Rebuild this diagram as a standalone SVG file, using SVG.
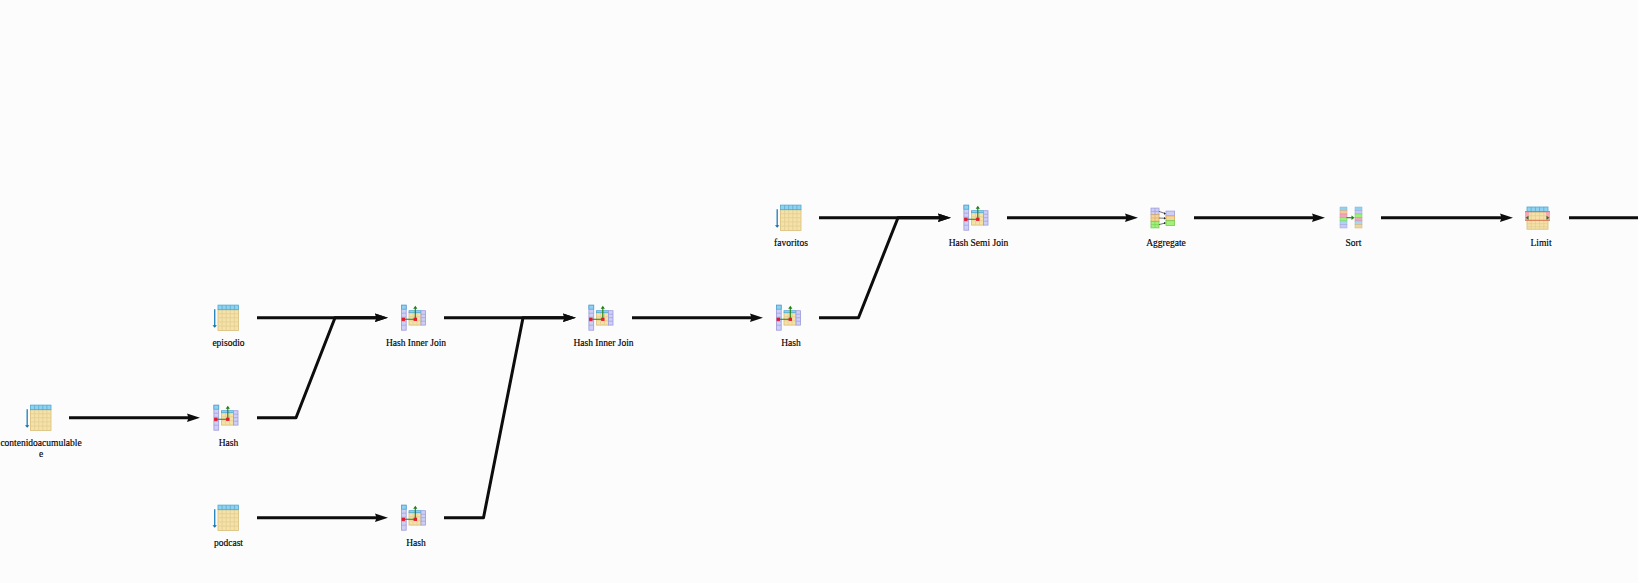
<svg xmlns="http://www.w3.org/2000/svg" width="1638" height="583" viewBox="0 0 1638 583">
<style>
.bg{fill:#fcfcfc}
.edge{fill:none;stroke:#0d0d0d;stroke-width:3;stroke-linejoin:round;marker-end:url(#head)}
.lbl{font-family:"Liberation Serif","Times New Roman",serif;font-size:9.5px;fill:#000;text-anchor:middle;stroke:#000;stroke-width:.15}
.y{fill:#f4e2a8;stroke:#d8bd78;stroke-width:.8}
.b{fill:#8fd2f0;stroke:#4ea8d2;stroke-width:.8}
.p{fill:#cfcff6;stroke:#9c9cdc;stroke-width:.8}
.gy{fill:none;stroke:#e2cc90;stroke-width:.7}
.gb{fill:none;stroke:#4ea8d2;stroke-width:.7}
.gp{fill:none;stroke:#9c9cdc;stroke-width:.7}
.r{fill:#e01b2c}
.gr{fill:none;stroke:#1f7f12;stroke-width:1.1}
.ga{fill:#1f7f12}
</style>
<defs>
<marker id="head" markerUnits="userSpaceOnUse" markerWidth="14" markerHeight="10" refX="5" refY="5" orient="auto" overflow="visible">
<path d="M0 .8L13 5L0 9.2L1.5 5Z" fill="#0d0d0d"/>
</marker>
<g id="ic-table">
<path d="M-13.8 -8.5V8.5" fill="none" stroke="#2a86bd" stroke-width="1.4"/>
<path d="M-16 7.5H-11.6L-13.8 10Z" fill="#1c6fa6"/>
<rect class="y" x="-10.5" y="-8" width="20.5" height="20.8"/>
<path class="gy" d="M-10.5 -4H10M-10.5 0H10M-10.5 4.2H10M-10.5 8.4H10M-6.4 -8V12.8M-2.3 -8V12.8M1.8 -8V12.8M5.9 -8V12.8"/>
<rect class="b" x="-10.5" y="-12.6" width="20.5" height="4.6"/>
<path class="gb" d="M-6.4 -12.6V-8M-2.3 -12.6V-8M1.8 -12.6V-8M5.9 -12.6V-8"/>
</g>
<g id="ic-hash">
<rect class="p" x="-14.6" y="-12.5" width="4.8" height="25"/>
<rect class="b" x="-14.6" y="-12.5" width="4.8" height="4"/>
<path class="gp" d="M-14.6 -4.5H-9.8M-14.6 -.5H-9.8M-14.6 3.5H-9.8M-14.6 7.5H-9.8"/>
<rect class="y" x="-7" y="-5" width="12" height="12.4"/>
<path class="gy" d="M-7 -1H5M-7 3H5M-3 -5V7.4M1 -5V7.4"/>
<rect class="b" x="-7" y="-7" width="12" height="2"/>
<rect class="p" x="5" y="-7" width="4.5" height="14.4"/>
<path class="gp" d="M5 -3.5H9.5M5 0H9.5M5 3.5H9.5"/>
<path class="gr" d="M-12.7 1.6H-.7V-10"/>
<path class="ga" d="M-.7 -12L-2.8 -9H1.4Z"/>
<rect class="r" x="-14.4" y="0" width="3.4" height="3.2"/>
<rect class="r" x="-2.4" y="0" width="3.4" height="3.2"/>
</g>
<g id="ic-agg">
<rect x="-15" y="-9.6" width="8" height="6.6" class="p"/>
<rect x="-15" y="-3" width="8" height="6.6" fill="#f4d69a" stroke="#d8a860" stroke-width=".8"/>
<rect x="-15" y="3.6" width="8" height="6.6" fill="#a4f07c" stroke="#72cc4e" stroke-width=".8"/>
<path class="gp" d="M-15 -6.3H-7M-11 -9.6V-3"/>
<path d="M-15 .3H-7M-11 -3V3.6" fill="none" stroke="#d8a860" stroke-width=".6"/>
<path d="M-15 6.9H-7M-11 3.6V10.2" fill="none" stroke="#72cc4e" stroke-width=".6"/>
<rect x="0" y="-6.6" width="8.6" height="4.8" class="p"/>
<rect x="0" y="-1.8" width="8.6" height="4.8" fill="#f4d69a" stroke="#d8a860" stroke-width=".8"/>
<rect x="0" y="3" width="8.6" height="4.8" fill="#a4f07c" stroke="#72cc4e" stroke-width=".8"/>
<path d="M-7 -6.3L-1 -4.2M-7 .3L-1 .6M-7 6.9L-1 5.4" fill="none" stroke="#333" stroke-width=".7"/>
<path d="M0 -4L-2 -5.4V-3ZM0 .6L-2 -.6V1.8ZM0 5.2L-2 4.4V6.6Z" fill="#222"/>
</g>
<g id="ic-sort">
<rect x="-13.5" y="-10.7" width="7" height="3.5" fill="#8fd2f0" stroke="#79b8d8" stroke-width=".5"/>
<rect x="-13.5" y="-7.2" width="7" height="3.5" fill="#f4c8a0" stroke="#d8a880" stroke-width=".5"/>
<rect x="-13.5" y="-3.7" width="7" height="3.5" fill="#f0a8b8" stroke="#d888a0" stroke-width=".5"/>
<rect x="-13.5" y="-.2" width="7" height="3.5" fill="#9cf07c" stroke="#78cc60" stroke-width=".5"/>
<rect x="-13.5" y="3.3" width="7" height="3.5" fill="#a8d8f0" stroke="#80b8d8" stroke-width=".5"/>
<rect x="-13.5" y="6.8" width="7" height="3.5" fill="#c8c8f6" stroke="#a0a0dc" stroke-width=".5"/>
<rect x="1.5" y="-10.7" width="7" height="3.5" fill="#8fd2f0" stroke="#79b8d8" stroke-width=".5"/>
<rect x="1.5" y="-7.2" width="7" height="3.5" fill="#c8c8f6" stroke="#a0a0dc" stroke-width=".5"/>
<rect x="1.5" y="-3.7" width="7" height="3.5" fill="#9cf07c" stroke="#78cc60" stroke-width=".5"/>
<rect x="1.5" y="-.2" width="7" height="3.5" fill="#f0a8b8" stroke="#d888a0" stroke-width=".5"/>
<rect x="1.5" y="3.3" width="7" height="3.5" fill="#a8d8f0" stroke="#80b8d8" stroke-width=".5"/>
<rect x="1.5" y="6.8" width="7" height="3.5" fill="#f0d49a" stroke="#d0b070" stroke-width=".5"/>
<path class="gr" d="M-7 0H-1"/>
<path class="ga" d="M1 0L-2 -2.2V2.2Z"/>
</g>
<g id="ic-limit">
<rect class="y" x="-14" y="-6" width="21" height="17.5"/>
<path class="gy" d="M-14 -2H7M-14 6H7M-14 9H7M-9.8 -6V11.5M-5.6 -6V11.5M-1.4 -6V11.5M2.8 -6V11.5"/>
<rect class="b" x="-14" y="-10.7" width="21" height="4.7"/>
<path class="gb" d="M-9.8 -10.7V-6M-5.6 -10.7V-6M-1.4 -10.7V-6M2.8 -10.7V-6"/>
<rect x="-16" y="-6" width="4" height="8.5" fill="#f5a8b4"/>
<rect x="5" y="-6" width="4" height="8.5" fill="#f5a8b4"/>
<path d="M-16 -6H9M-16 2.6H9" fill="none" stroke="#d8704f" stroke-width="1"/>
<path class="ga" d="M-15.5 0L-12.5 -2V2ZM8.5 0L5.5 -2V2Z"/>
</g>
</defs>
<rect class="bg" width="1638" height="583"/>
<g id="connectors">
<path class="edge" d="M69 417.7H192"/>
<path class="edge" d="M257 317.7H380"/>
<path class="edge" d="M257 417.7H296L335 317.7H380"/>
<path class="edge" d="M257 517.7H380"/>
<path class="edge" d="M444 317.7H568"/>
<path class="edge" d="M444 517.7H483.5L523 317.7H568"/>
<path class="edge" d="M632 317.7H755"/>
<path class="edge" d="M819 217.7H943"/>
<path class="edge" d="M819 317.7H858.5L898 217.7H943"/>
<path class="edge" d="M1007 217.7H1130"/>
<path class="edge" d="M1194 217.7H1317"/>
<path class="edge" d="M1381 217.7H1505"/>
<path d="M1569 217.7H1640" fill="none" stroke="#0d0d0d" stroke-width="3"/>
</g>
<g id="n-contenidoacumulable"><use href="#ic-table" x="41" y="417.7"/><text class="lbl" x="41" y="446.3">contenidoacumulable</text><text class="lbl" x="41" y="457.3">e</text></g>
<g id="n-hash1"><use href="#ic-hash" x="228.5" y="417.7"/><text class="lbl" x="228.5" y="446.3">Hash</text></g>
<g id="n-episodio"><use href="#ic-table" x="228.5" y="317.7"/><text class="lbl" x="228.5" y="346.3">episodio</text></g>
<g id="n-podcast"><use href="#ic-table" x="228.5" y="517.7"/><text class="lbl" x="228.5" y="546.3">podcast</text></g>
<g id="n-join1"><use href="#ic-hash" x="416" y="317.7"/><text class="lbl" x="416" y="346.3">Hash Inner Join</text></g>
<g id="n-hash2"><use href="#ic-hash" x="416" y="517.7"/><text class="lbl" x="416" y="546.3">Hash</text></g>
<g id="n-join2"><use href="#ic-hash" x="603.5" y="317.7"/><text class="lbl" x="603.5" y="346.3">Hash Inner Join</text></g>
<g id="n-hash3"><use href="#ic-hash" x="791" y="317.7"/><text class="lbl" x="791" y="346.3">Hash</text></g>
<g id="n-favoritos"><use href="#ic-table" x="791" y="217.7"/><text class="lbl" x="791" y="246.3">favoritos</text></g>
<g id="n-semijoin"><use href="#ic-hash" x="978.5" y="217.7"/><text class="lbl" x="978.5" y="246.3">Hash Semi Join</text></g>
<g id="n-aggregate"><use href="#ic-agg" x="1166" y="217.7"/><text class="lbl" x="1166" y="246.3">Aggregate</text></g>
<g id="n-sort"><use href="#ic-sort" x="1353.5" y="217.7"/><text class="lbl" x="1353.5" y="246.3">Sort</text></g>
<g id="n-limit"><use href="#ic-limit" x="1541" y="217.7"/><text class="lbl" x="1541" y="246.3">Limit</text></g>
</svg>
